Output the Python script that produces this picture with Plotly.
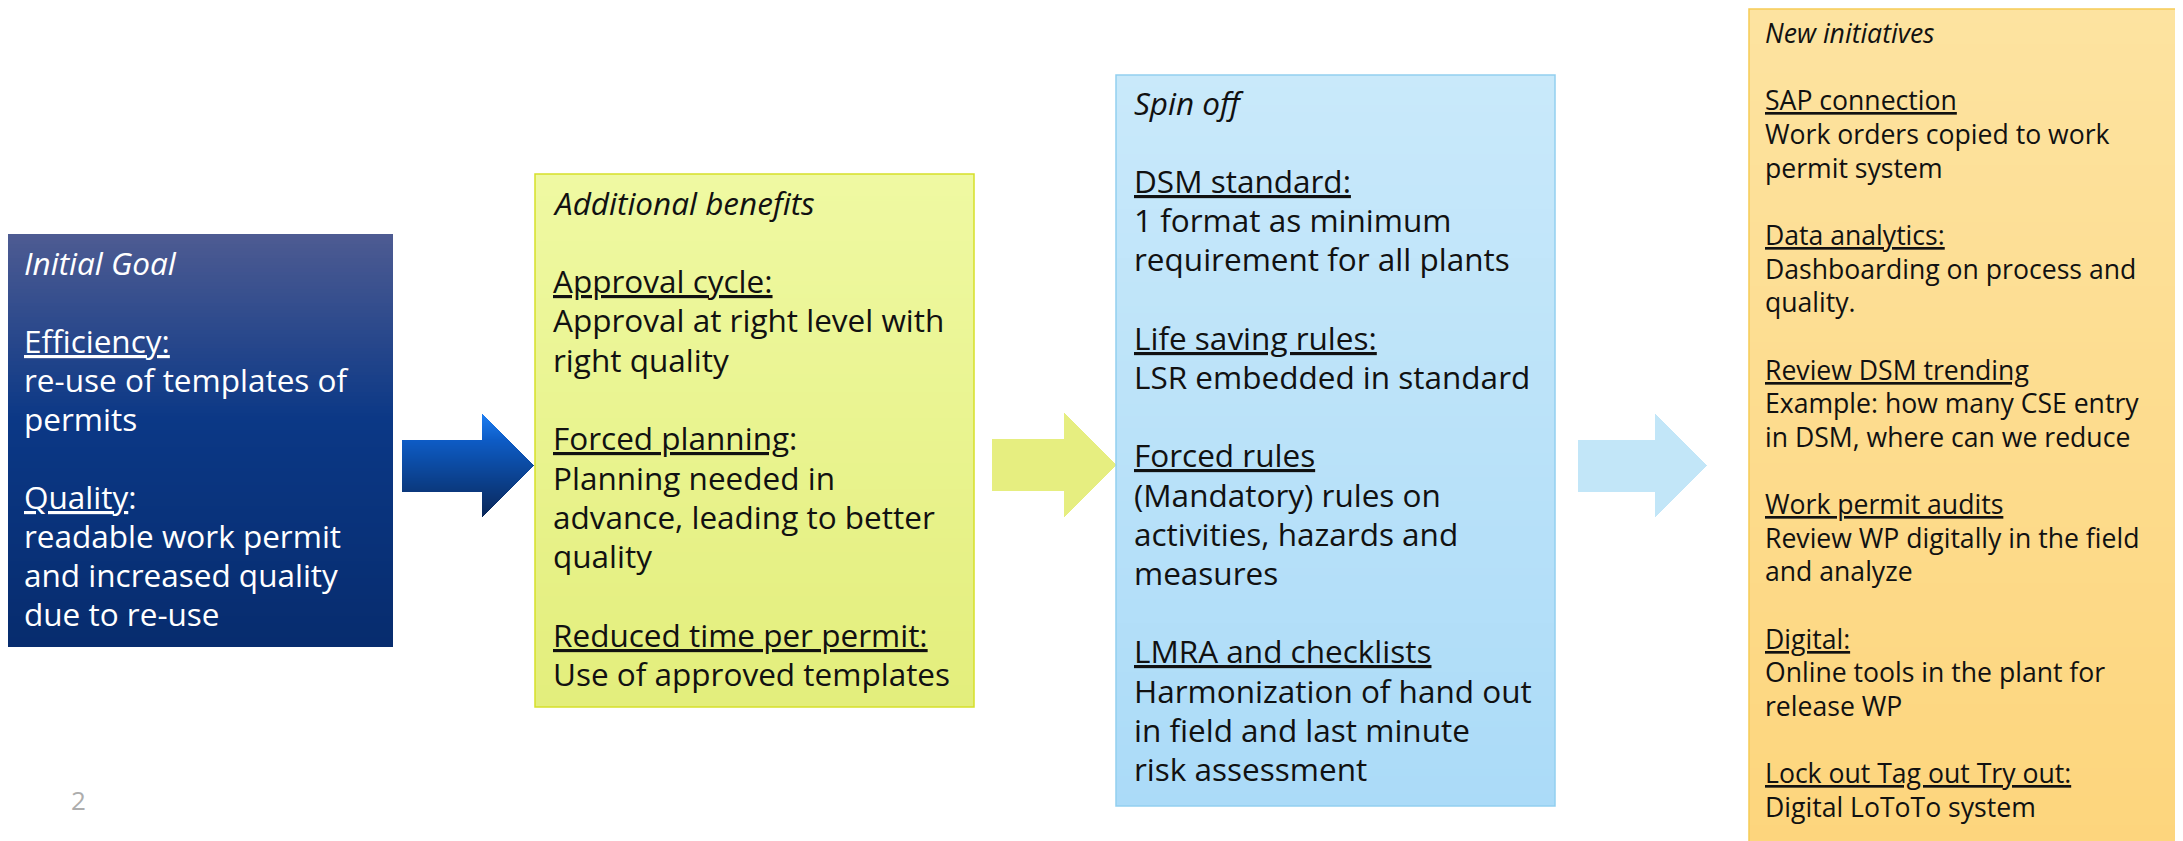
"""Work permit roadmap slide - four boxes joined by arrows"""

import numpy as np
import plotly.graph_objects as go

W, H = 2183, 841
PAD = 8  # default body margin of the html page

# box texts, one entry per line ("" = empty line)
goal_lines = ["<i>Initial Goal</i>", "",
              "<u>Efficiency:</u>", "re-use of templates of", "permits", "",
              "<u>Quality</u>:", "readable work permit", "and increased quality", "due to re-use"]
benefit_lines = ["<i>Additional benefits</i>", "",
                 "<u>Approval cycle:</u>", "Approval at right level with", "right quality", "",
                 "<u>Forced planning</u>:", "Planning needed in", "advance, leading to better", "quality", "",
                 "<u>Reduced time per permit:</u>", "Use of approved templates"]
spinoff_lines = ["<i>Spin off</i>", "",
                 "<u>DSM standard:</u>", "1 format as minimum", "requirement for all plants", "",
                 "<u>Life saving rules:</u>", "LSR embedded in standard", "",
                 "<u>Forced rules</u>", "(Mandatory) rules on", "activities, hazards and", "measures", "",
                 "<u>LMRA and checklists</u>", "Harmonization of hand out", "in field and last minute",
                 "risk assessment"]
initiative_lines = ["<i>New initiatives</i>", "",
                    "<u>SAP connection</u>", "Work orders copied to work", "permit system", "",
                    "<u>Data analytics:</u>", "Dashboarding on process and", "quality.", "",
                    "<u>Review DSM trending</u>", "Example: how many CSE entry", "in DSM, where can we reduce", "",
                    "<u>Work permit audits</u>", "Review WP digitally in the field", "and analyze", "",
                    "<u>Digital:</u>", "Online tools in the plant for", "release WP", "",
                    "<u>Lock out Tag out Try out:</u>", "Digital LoToTo system"]
page_no = "2"

FONT = "Open Sans"

# box: (x0, x1, y0, y1), gradient stops, border, text colour, text x, first line y, line pitch, font size
boxes = [
    dict(rect=(4, 393, 234, 647), stops=[[0, "#4d5b92"], [0.45, "#0b3886"], [1, "#072c6e"]],
         border=None, color="white", tx=22, ty=262, pitch=39.1, size=31.5, lines=goal_lines),
    dict(rect=(535, 974, 174, 707), stops=[[0, "#eff9a2"], [1, "#e3ee7c"]],
         border="#d6df2a", color="#111111", tx=551, ty=202, pitch=39.3, size=31.5, lines=benefit_lines),
    dict(rect=(1116, 1555, 75, 806), stops=[[0, "#c9e9fa"], [1, "#abdbf8"]],
         border="#92cff0", color="#111111", tx=1132, ty=102, pitch=39.2, size=31.5, lines=spinoff_lines),
    dict(rect=(1749, 2200, 9, 860), stops=[[0, "#fde3a0"], [1, "#fdd57c"]],
         border="#f6cb55", color="#111111", tx=1763, ty=33, pitch=33.65, size=26.6, lines=initiative_lines),
]

# arrow: x start, head start, tip, shaft top/bottom, head top/bottom, colours
arrows = [
    dict(x=(402, 482, 534), shaft=(440, 492), head=(414, 517),
         stops=[[0, "#1d7ef2"], [0.25, "#0d5cc6"], [1, "#0a2759"]]),
    dict(x=(992, 1064, 1116), shaft=(439, 491), head=(413, 517),
         stops=[[0, "#e6ee80"], [1, "#e6ee80"]]),
    dict(x=(1578, 1655, 1707), shaft=(440, 492), head=(414, 517),
         stops=[[0, "#c2e6f8"], [1, "#c2e6f8"]]),
]

fig = go.Figure()

for b in boxes:
    x0, x1, y0, y1 = b["rect"]
    n = 120
    edges = np.linspace(y0, y1, n + 1)
    z = np.linspace(0, 1, n).reshape(-1, 1)
    fig.add_trace(go.Heatmap(z=z, x=[x0, x1], y=edges, colorscale=b["stops"], zmin=0, zmax=1,
                             showscale=False, hoverinfo="skip", zsmooth=False))
    if b["border"]:
        fig.add_shape(type="rect", x0=x0, x1=x1, y0=y0, y1=y1,
                      line=dict(color=b["border"], width=1.5), fillcolor="rgba(0,0,0,0)", layer="above")
    for i, line in enumerate(b["lines"]):
        if not line:
            continue
        fig.add_annotation(x=b["tx"], y=b["ty"] + i * b["pitch"], xref="x", yref="y",
                           text=line, showarrow=False, xanchor="left", yanchor="middle",
                           font=dict(family=FONT, size=b["size"], color=b["color"]))

for a in arrows:
    xs, xh, xt = a["x"]
    st, sb = a["shaft"]
    ht, hb = a["head"]
    xe = np.arange(xs, xt + 1)
    ye = np.arange(ht, hb + 1)
    cx = (xe[:-1] + xe[1:]) / 2
    cy = (ye[:-1] + ye[1:]) / 2
    CX, CY = np.meshgrid(cx, cy)
    mid = (ht + hb) / 2
    half = (hb - ht) / 2
    shaft = (CX <= xh) & (CY >= st) & (CY <= sb)
    head = (CX >= xh) & (np.abs(CY - mid) <= half * (xt - CX) / (xt - xh))
    z = (CY - ht) / (hb - ht)
    z = np.where(shaft | head, z, np.nan)
    fig.add_trace(go.Heatmap(z=z, x=xe, y=ye, colorscale=a["stops"], zmin=0, zmax=1,
                             showscale=False, hoverinfo="skip", zsmooth=False))

fig.add_annotation(x=78, y=800, xref="x", yref="y", text=page_no, showarrow=False,
                   font=dict(family=FONT, size=26, color="#adadad"))

# shift the ranges so that data units equal page pixels
fig.update_xaxes(range=[PAD, W + PAD], visible=False, fixedrange=True)
fig.update_yaxes(range=[H + PAD, PAD], visible=False, fixedrange=True)
fig.update_layout(width=W, height=H, margin=dict(l=0, r=0, t=0, b=0),
                  plot_bgcolor="white", paper_bgcolor="white", showlegend=False)

fig.write_html("out.html")
